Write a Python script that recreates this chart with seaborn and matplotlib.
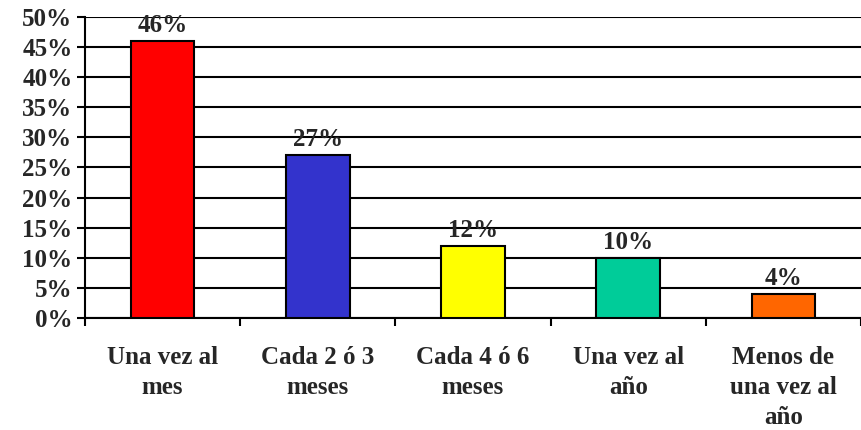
import matplotlib
matplotlib.use("Agg")
import matplotlib.pyplot as plt
import seaborn as sns
import pandas as pd
from matplotlib.ticker import FixedLocator

categories = ["Una vez al\nmes", "Cada 2 ó 3\nmeses", "Cada 4 ó 6\nmeses", "Una vez al\naño", "Menos de\nuna vez al\naño"]
values = [46, 27, 12, 10, 4]
colors = ["#FF0000", "#3333CC", "#FFFF00", "#00CC99", "#FF6600"]
yticks = [0, 5, 10, 15, 20, 25, 30, 35, 40, 45, 50]

sns.set_theme(style="white")
plt.rcParams['font.family'] = ['Liberation Serif', 'DejaVu Serif']
plt.rcParams['font.weight'] = 'bold'

df = pd.DataFrame({"cat": categories, "val": values})

fig = plt.figure(figsize=(8.61, 4.30), dpi=100)
ax = fig.add_axes([0.0987, 0.2605, 0.9013, 0.7])

sns.barplot(data=df, x="cat", y="val", hue="cat", palette=colors, legend=False,
            saturation=1, width=0.41, edgecolor="black", linewidth=1.5, ax=ax, zorder=3)

ax.set_xlim(-0.5, 4.5)
ax.set_ylim(0, 50)
ax.set_yticks(yticks)
ax.set_yticklabels([f"{v}%" for v in yticks], fontsize=18, fontweight="bold")
ax.yaxis.grid(True, color="black", linewidth=1.5, zorder=0)
ax.set_axisbelow(True)

ax.set_xticks(range(len(categories)))
ax.set_xticklabels(categories, fontsize=18, fontweight="bold", linespacing=1.4, va="top")
ax.tick_params(axis="x", which="major", length=0, pad=20)
ax.xaxis.set_minor_locator(FixedLocator([i - 0.5 for i in range(len(categories) + 1)]))
ax.tick_params(axis="x", which="minor", bottom=True, length=6, width=1.5, color="black", direction="out")
ax.tick_params(axis="y", which="major", left=True, length=6, width=1.5, color="black", direction="out", pad=3)

ax.set_xlabel("")
ax.set_ylabel("")

for s in ["top", "right"]:
    ax.spines[s].set_visible(False)
for s in ["left", "bottom"]:
    ax.spines[s].set_visible(True)
    ax.spines[s].set_color("black")
    ax.spines[s].set_linewidth(1.5)

for i, v in enumerate(values):
    ax.annotate(f"{v}%", (i, v), xytext=(0, 3), textcoords="offset points",
                ha="center", va="bottom", fontsize=18, fontweight="bold", clip_on=False)

fig.savefig("out.png", dpi=100)
